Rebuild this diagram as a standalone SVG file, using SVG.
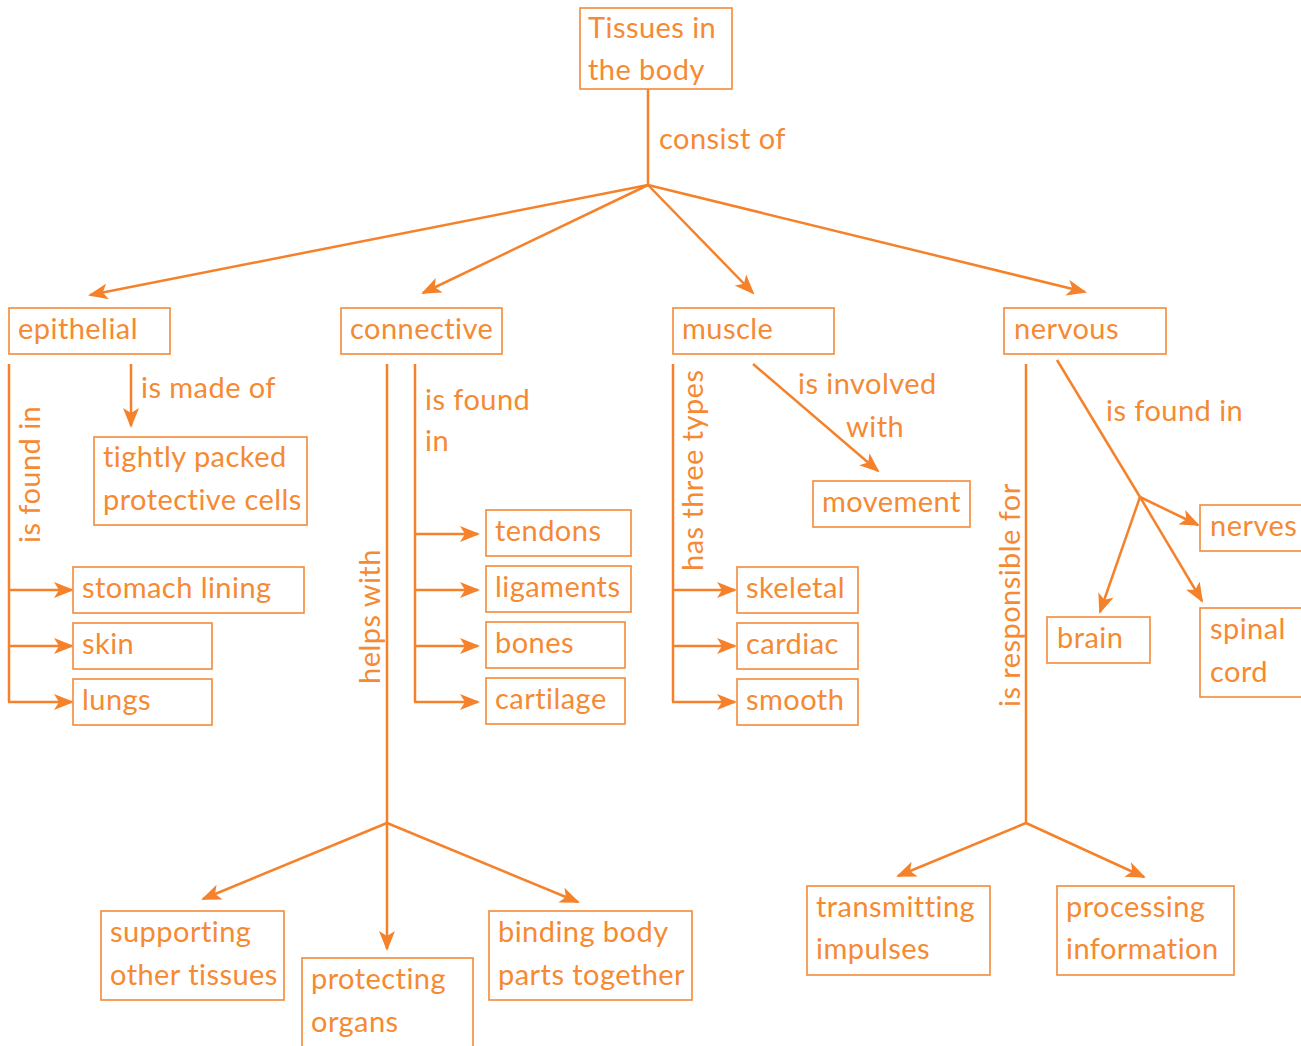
<svg xmlns="http://www.w3.org/2000/svg" width="1301" height="1046" viewBox="0 0 1301 1046">
<style>
rect.n{fill:#fff;stroke:#F58A3A;stroke-width:1.6}
text{font-family:Lato,"Liberation Sans",sans-serif;font-size:29px;letter-spacing:0.45px;fill:#F58A33}
.c line,.c polyline{stroke:#F5822A;stroke-width:2.5;fill:none}
.a{marker-end:url(#ah)}
</style>
<defs>
<marker id="ah" markerUnits="userSpaceOnUse" markerWidth="20" markerHeight="16" viewBox="0 0 20 16" refX="18" refY="8" orient="auto">
<path d="M0,0 L20,8 L0,16 L5,8 Z" fill="#F5822A"/>
</marker>
</defs>
<rect width="1301" height="1046" fill="#fff"/>
<g class="c" id="connectors">
<line x1="648" y1="89" x2="648" y2="185"/>
<line class="a" x1="648" y1="185" x2="90" y2="295"/>
<line class="a" x1="648" y1="185" x2="423" y2="293"/>
<line class="a" x1="648" y1="185" x2="753" y2="293"/>
<line class="a" x1="648" y1="185" x2="1085" y2="292"/>
<line x1="9" y1="364" x2="9" y2="702"/>
<line class="a" x1="9" y1="590" x2="72" y2="590"/>
<line class="a" x1="9" y1="646" x2="72" y2="646"/>
<line class="a" x1="8" y1="702" x2="72" y2="702"/>
<line class="a" x1="131" y1="364" x2="131" y2="426"/>
<line x1="387" y1="364" x2="387" y2="823"/>
<line x1="415" y1="364" x2="415" y2="702"/>
<line class="a" x1="415" y1="534" x2="478" y2="534"/>
<line class="a" x1="415" y1="590" x2="478" y2="590"/>
<line class="a" x1="415" y1="646" x2="478" y2="646"/>
<line class="a" x1="414" y1="702" x2="478" y2="702"/>
<line class="a" x1="387" y1="823" x2="203" y2="899"/>
<line class="a" x1="387" y1="823" x2="387" y2="949"/>
<line class="a" x1="387" y1="823" x2="578" y2="902"/>
<line x1="673" y1="364" x2="673" y2="702"/>
<line class="a" x1="673" y1="590" x2="735" y2="590"/>
<line class="a" x1="673" y1="646" x2="735" y2="646"/>
<line class="a" x1="672" y1="702" x2="735" y2="702"/>
<line class="a" x1="753" y1="364" x2="878" y2="471"/>
<line x1="1026" y1="364" x2="1026" y2="823"/>
<line class="a" x1="1026" y1="823" x2="898" y2="876"/>
<line class="a" x1="1026" y1="823" x2="1144" y2="877"/>
<line x1="1057" y1="360" x2="1140" y2="497"/>
<line class="a" x1="1140" y1="497" x2="1198" y2="525"/>
<line class="a" x1="1140" y1="497" x2="1100" y2="612"/>
<line class="a" x1="1140" y1="497" x2="1202" y2="601"/>
</g>
<g id="labels">
<text x="659" y="149">consist of</text>
<text transform="translate(40,543) rotate(-90)">is found in</text>
<text x="141" y="398">is made of</text>
<text transform="translate(380,684) rotate(-90)">helps with</text>
<text x="425" y="410">is found</text>
<text x="425" y="451">in</text>
<text transform="translate(703,571) rotate(-90)">has three types</text>
<text x="798" y="394">is involved</text>
<text x="846" y="437">with</text>
<text transform="translate(1020,707) rotate(-90)">is responsible for</text>
<text x="1106" y="421">is found in</text>
</g>
<g id="n-tissues"><rect class="n" x="580" y="8" width="152" height="81"/><text x="588" y="38">Tissues in</text><text x="588" y="80">the body</text></g>
<g id="n-epithelial"><rect class="n" x="9" y="308" width="161" height="46"/><text x="18" y="339">epithelial</text></g>
<g id="n-connective"><rect class="n" x="341" y="308" width="161" height="46"/><text x="350" y="339">connective</text></g>
<g id="n-muscle"><rect class="n" x="673" y="308" width="161" height="46"/><text x="682" y="339">muscle</text></g>
<g id="n-nervous"><rect class="n" x="1004" y="308" width="162" height="46"/><text x="1014" y="339">nervous</text></g>
<g id="n-tightly"><rect class="n" x="94" y="437" width="213" height="88"/><text x="103" y="467">tightly packed</text><text x="103" y="510">protective cells</text></g>
<g id="n-stomach"><rect class="n" x="73" y="567" width="231" height="46"/><text x="82" y="598">stomach lining</text></g>
<g id="n-skin"><rect class="n" x="73" y="623" width="139" height="46"/><text x="82" y="654">skin</text></g>
<g id="n-lungs"><rect class="n" x="73" y="679" width="139" height="46"/><text x="82" y="710">lungs</text></g>
<g id="n-tendons"><rect class="n" x="486" y="510" width="145" height="46"/><text x="495" y="541">tendons</text></g>
<g id="n-ligaments"><rect class="n" x="486" y="566" width="145" height="46"/><text x="495" y="597">ligaments</text></g>
<g id="n-bones"><rect class="n" x="486" y="622" width="139" height="46"/><text x="495" y="653">bones</text></g>
<g id="n-cartilage"><rect class="n" x="486" y="678" width="139" height="46"/><text x="495" y="709">cartilage</text></g>
<g id="n-supporting"><rect class="n" x="101" y="911" width="183" height="89"/><text x="110" y="942">supporting</text><text x="110" y="985">other tissues</text></g>
<g id="n-protecting"><rect class="n" x="302" y="958" width="171" height="95"/><text x="311" y="989">protecting</text><text x="311" y="1032">organs</text></g>
<g id="n-binding"><rect class="n" x="489" y="911" width="203" height="89"/><text x="498" y="942">binding body</text><text x="498" y="985">parts together</text></g>
<g id="n-movement"><rect class="n" x="813" y="481" width="157" height="46"/><text x="822" y="512">movement</text></g>
<g id="n-skeletal"><rect class="n" x="737" y="567" width="121" height="46"/><text x="746" y="598">skeletal</text></g>
<g id="n-cardiac"><rect class="n" x="737" y="623" width="121" height="46"/><text x="746" y="654">cardiac</text></g>
<g id="n-smooth"><rect class="n" x="737" y="679" width="121" height="46"/><text x="746" y="710">smooth</text></g>
<g id="n-transmitting"><rect class="n" x="807" y="886" width="183" height="89"/><text x="816" y="917">transmitting</text><text x="816" y="959">impulses</text></g>
<g id="n-processing"><rect class="n" x="1057" y="886" width="177" height="89"/><text x="1066" y="917">processing</text><text x="1066" y="959">information</text></g>
<g id="n-nerves"><rect class="n" x="1200" y="505" width="110" height="46"/><text x="1210" y="536">nerves</text></g>
<g id="n-brain"><rect class="n" x="1047" y="617" width="103" height="46"/><text x="1057" y="648">brain</text></g>
<g id="n-spinal"><rect class="n" x="1200" y="608" width="110" height="89"/><text x="1210" y="639">spinal</text><text x="1210" y="682">cord</text></g>
</svg>
